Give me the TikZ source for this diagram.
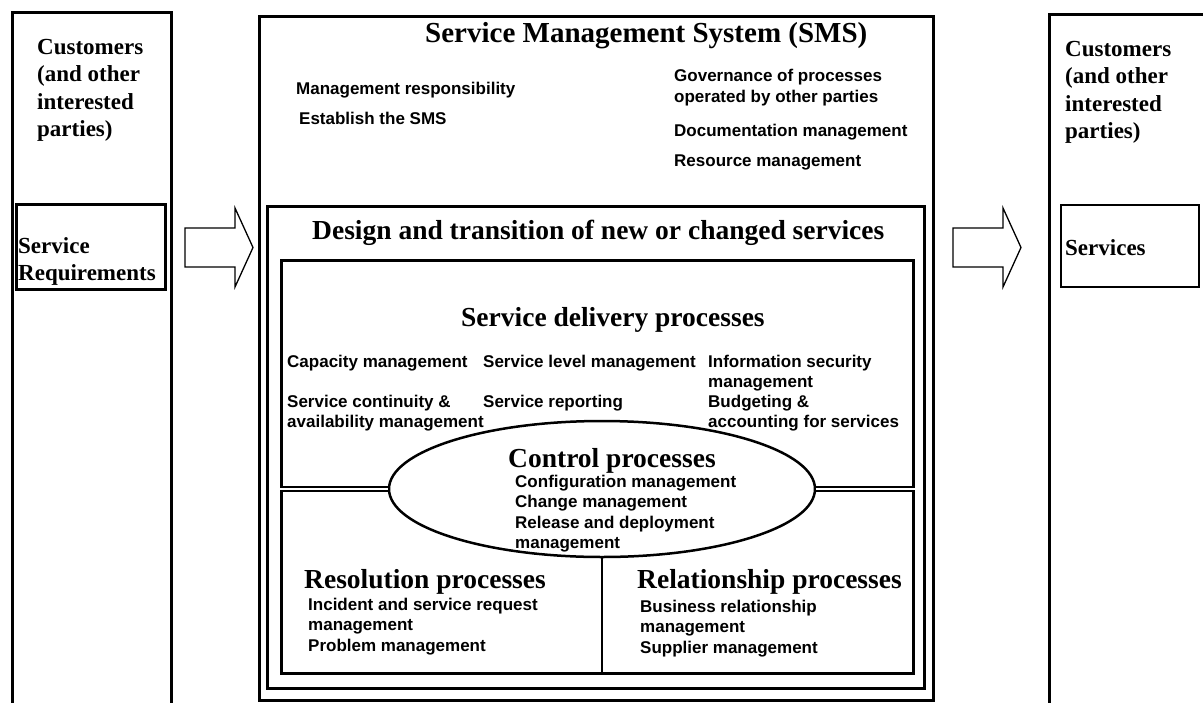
\documentclass[tikz,border=0pt]{standalone}
\usepackage{fontspec}
\setmainfont{Liberation Serif}
\newfontfamily\itemfont{Liberation Sans}
\usetikzlibrary{shapes.geometric}

\tikzset{
  frame/.style={draw, line width=#1, rectangle, inner sep=0pt, anchor=north west},
  head/.style={font=\bfseries\fontsize{27.5}{30}\selectfont, anchor=base west, inner sep=0pt},
  side/.style={font=\bfseries\fontsize{23}{27.5}\selectfont, align=left, anchor=base west, inner sep=0pt},
  item/.style={font=\itemfont\bfseries\fontsize{17}{20.5}\selectfont, align=left, anchor=base west, inner sep=0pt},
  pics/fatarrow/.style={code={
    \draw[line width=1.3pt, line join=miter]
      (0,0) -- (50,0) -- (50,-20) -- (68,19.5) -- (50,59) -- (50,39) -- (0,39) -- cycle;}}
}

\begin{document}
\begin{tikzpicture}[x=1pt, y=-1pt]
\useasboundingbox (0,0) rectangle (1203,702);

% customers on both sides
\node[frame=2.5pt, minimum width=159, minimum height=720] (custL) at (11,11) {};
\node[frame=2.5pt, minimum width=200, minimum height=720] (custR) at (1048,13) {};
\node[frame=3pt, minimum width=149, minimum height=85] (req) at (15,203) {};
\node[frame=2pt, minimum width=138, minimum height=82] (serv) at (1060,204) {};

% multi-line nodes sit on the baseline of their last line
\node[side] (custLtxt) at (37,136.5) {Customers\\(and other\\interested\\parties)};
\node[side] (custRtxt) at (1065,138.5) {Customers\\(and other\\interested\\parties)};
\node[side, font=\bfseries\fontsize{23}{27}\selectfont] (reqtxt) at (18,280) {Service\\Requirements};
\node[side] (servtxt) at (1065,255) {Services};

\pic at (185,228) {fatarrow};
\pic at (953,228) {fatarrow};

% the SMS
\node[frame=2.5pt, minimum width=674, minimum height=684] (sms) at (258,15) {};
\node[frame=3pt, minimum width=657, minimum height=482] (dts) at (266,205) {};
\node[frame=3pt, minimum width=632, minimum height=413] (sdp) at (280,259) {};
\node[ellipse, draw, line width=2.5pt, minimum width=426, minimum height=136, inner sep=0pt] (ctrl) at (602,489) {};

\draw[double, line width=1.8pt, double distance=1.6pt] (sdp.west |- ctrl.west) -- (ctrl.west);
\draw[double, line width=1.8pt, double distance=1.6pt] (ctrl.east) -- (sdp.east |- ctrl.east);
\draw[line width=2.5pt] (ctrl.south) -- (ctrl.south |- sdp.south);

\node[head, font=\bfseries\fontsize{29}{32}\selectfont] (smstxt) at (425,42) {Service Management System (SMS)};
\node[item] (mresp) at (296,94) {Management responsibility};
\node[item] (estab) at (299,124) {Establish the SMS};
\node[item, font=\itemfont\bfseries\fontsize{17}{21}\selectfont] (gov) at (674,102) {Governance of processes\\operated by other parties};
\node[item] (docm) at (674,136) {Documentation management};
\node[item] (resm) at (674,166) {Resource management};

\node[head] (dtstxt) at (312,239) {Design and transition of new or changed services};
\node[head] (sdptxt) at (461,326) {Service delivery processes};
\node[item] (capm) at (287,367) {Capacity management};
\node[item] (slm) at (483,367) {Service level management};
\node[item] (ism) at (708,387.5) {Information security\\management};
\node[item] (scam) at (287,427.5) {Service continuity \&\\availability management};
\node[item] (srep) at (483,407) {Service reporting};
\node[item] (bafs) at (708,427.5) {Budgeting \&\\accounting for services};

\node[head] (ctrltxt) at (508,467) {Control processes};
\node[item] (ctrlitems) at (515,548.5) {Configuration management\\Change management\\Release and deployment\\management};

\node[head] (restxt) at (304,588) {Resolution processes};
\node[item] (resitems) at (308,651) {Incident and service request\\management\\Problem management};
\node[head] (reltxt) at (637,588) {Relationship processes};
\node[item] (relitems) at (640,653) {Business relationship\\management\\Supplier management};
\end{tikzpicture}
\end{document}
